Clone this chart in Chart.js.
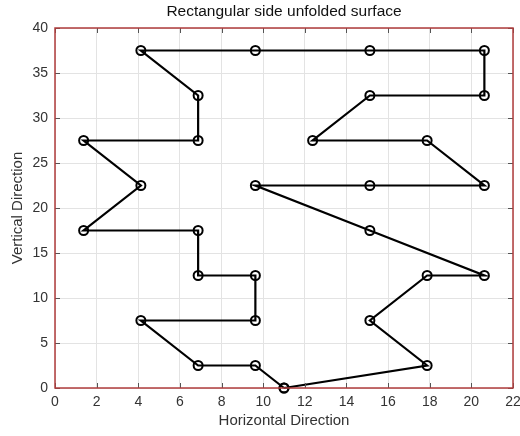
<!DOCTYPE html>
<html>
<head>
<meta charset="utf-8">
<script src="https://cdn.jsdelivr.net/npm/chart.js@4/dist/chart.umd.min.js"></script>
<style>
  body{margin:0;background:#fff}
  #wrap{width:520px;height:436px;position:relative}
</style>
</head>
<body>
<div id="wrap"><canvas id="myChart"></canvas></div>
<script>
  // path points, in drawing order
  let xs=[11,17.875,15.125,17.875,20.625,15.125,9.625,15.125,20.625,17.875,12.375,15.125,20.625,20.625,15.125,9.625,4.125,6.875,6.875,1.375,4.125,1.375,6.875,6.875,9.625,9.625,4.125,6.875,9.625,11]
  let ys=[0,2.5,7.5,12.5,12.5,17.5,22.5,22.5,22.5,27.5,27.5,32.5,32.5,37.5,37.5,37.5,37.5,32.5,27.5,27.5,22.5,17.5,17.5,12.5,12.5,7.5,7.5,2.5,2.5,0]
  let xTicks=[0,2,4,6,8,10,12,14,16,18,20,22]
  let yTicks=[0,5,10,15,20,25,30,35,40]
  let titleText='Rectangular side unfolded surface'

  let pts=[]
  for(let i=0;i<xs.length;i++){
    pts.push({x:xs[i],y:ys[i]})
  }

  let font='"Liberation Sans", Arial'

  const boxPlugin={
    id:'box',
    afterDraw(chart){
      let c=chart.ctx, a=chart.chartArea
      c.save()
      // inner ticks like matlab
      c.strokeStyle='#555'
      c.lineWidth=1
      let sx=chart.scales.x, sy=chart.scales.y
      for(let t of xTicks){
        let px=Math.round(sx.getPixelForValue(t))+0.5
        c.beginPath();c.moveTo(px,a.bottom);c.lineTo(px,a.bottom-5);c.stroke()
        c.beginPath();c.moveTo(px,a.top);c.lineTo(px,a.top+5);c.stroke()
      }
      for(let t of yTicks){
        let py=Math.round(sy.getPixelForValue(t))+0.5
        c.beginPath();c.moveTo(a.left,py);c.lineTo(a.left+5,py);c.stroke()
        c.beginPath();c.moveTo(a.right,py);c.lineTo(a.right-5,py);c.stroke()
      }
      c.strokeStyle='#b03c3c'
      c.lineWidth=1.5
      c.strokeRect(a.left,a.top,a.right-a.left,a.bottom-a.top)
      // title centred over the plot box
      c.fillStyle='#111'
      c.font='15.5px '+font
      c.textAlign='center'
      c.textBaseline='middle'
      c.fillText(titleText,(a.left+a.right)/2,a.top-16)
      c.restore()
    }
  }

  let ctx=document.getElementById('myChart').getContext('2d')
  let myChart=new Chart(ctx,{
    type:'scatter',
    data:{
      datasets:[{
        data:pts,
        showLine:true,
        borderColor:'#000',
        backgroundColor:'rgba(0,0,0,0)',
        borderWidth:2.2,
        pointRadius:4.5,
        pointBorderWidth:2,
        pointBorderColor:'#000',
        pointBackgroundColor:'rgba(0,0,0,0)',
        clip:false
      }]
    },
    options:{
      responsive:true,
      maintainAspectRatio:false,
      animation:false,
      layout:{padding:{left:0,right:7,top:28,bottom:0}},
      plugins:{
        legend:{display:false},
        tooltip:{enabled:false},
        title:{display:false}
      },
      scales:{
        x:{
          type:'linear',min:0,max:22,
          afterBuildTicks(s){s.ticks=xTicks.map(v=>({value:v}))},
          afterFit(s){s.height=48;s.paddingRight=0;s.paddingLeft=0},
          grid:{color:'#e3e3e3',drawTicks:false},
          border:{display:false},
          ticks:{color:'#333',padding:6,font:{family:font,size:14}},
          title:{display:true,text:'Horizontal Direction',color:'#333',padding:{top:1,bottom:6},font:{family:font,size:15}}
        },
        y:{
          type:'linear',min:0,max:40,
          afterBuildTicks(s){s.ticks=yTicks.map(v=>({value:v}))},
          afterFit(s){s.width=55;s.paddingTop=0;s.paddingBottom=0},
          grid:{color:'#e3e3e3',drawTicks:false},
          border:{display:false},
          ticks:{color:'#333',padding:7,font:{family:font,size:14}},
          title:{display:true,text:'Vertical Direction',color:'#333',padding:{top:9,bottom:4},font:{family:font,size:15}}
        }
      }
    },
    plugins:[boxPlugin]
  })
</script>
</body>
</html>
